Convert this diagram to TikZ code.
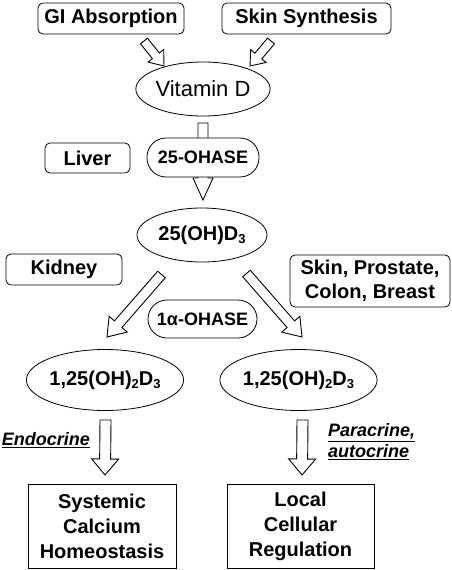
\documentclass[tikz,border=0pt]{standalone}
\usepackage{fontspec}
\setmainfont{Liberation Sans}
\usetikzlibrary{calc,shapes.geometric}
\pgfdeclarelayer{background}
\pgfsetlayers{background,main}
\newcommand{\lowsub}[1]{\raisebox{-0.35ex}{\fontsize{13}{13}\selectfont #1}}
\begin{document}
\begin{tikzpicture}[x=1pt,y=-1pt,
  lbl/.style={font=\bfseries\fontsize{20}{24}\selectfont, align=center, inner sep=0pt},
  rbox/.style={lbl, draw, fill=white, rounded corners=5pt, line width=0.8pt},
  sbox/.style={lbl, draw, fill=white, line width=0.8pt, font=\bfseries\fontsize{20}{25}\selectfont},
  oval/.style={lbl, draw, fill=white, ellipse, line width=0.8pt},
  pill/.style={lbl, draw, fill=white, rounded corners=19pt, line width=0.8pt, font=\bfseries\fontsize{18}{20}\selectfont},
  mode/.style={inner sep=0pt, align=left, font=\bfseries\itshape\fontsize{18}{20}\selectfont},
  blkarrow/.style={draw, fill=white, line width=0.9pt, line join=miter},
  blk/.style n args={3}{to path={
    let \p1=($(\tikztotarget)!#3!(\tikztostart)$) in
    ($(\tikztostart)!#1!90:(\tikztotarget)$) --
    ($(\p1)!#1!90:(\tikztotarget)$) --
    ($(\p1)!#2!90:(\tikztotarget)$) --
    (\tikztotarget) --
    ($(\p1)!#2!-90:(\tikztotarget)$) --
    ($(\p1)!#1!-90:(\tikztotarget)$) --
    ($(\tikztostart)!#1!-90:(\tikztotarget)$) -- cycle
  }}
]
\useasboundingbox (0,0) rectangle (451,570);

% nodes
\node[rbox, minimum width=146pt, minimum height=31pt] (gi) at (111,18.5) {GI Absorption};
\node[rbox, minimum width=169pt, minimum height=31pt] (skin) at (306.5,18.5) {Skin Synthesis};
\node[oval, minimum width=130pt, minimum height=54pt, font=\fontsize{22}{24}\selectfont] (vit) at (203,89) {Vitamin D};
\node[pill, minimum width=112pt, minimum height=39pt] (oh25) at (203,157.5) {25-OHASE};
\node[rbox, minimum width=85pt, minimum height=30pt] (liver) at (87.5,158) {Liver};
\node[oval, minimum width=130pt, minimum height=54pt] (d3) at (202,235) {25(OH)D\lowsub{3}};
\node[rbox, minimum width=116pt, minimum height=31pt] (kidney) at (64,269.5) {Kidney};
\node[rbox, minimum width=160pt, minimum height=52pt] (tissue) at (370,281) {Skin, Prostate,\\Colon, Breast};
\node[pill, minimum width=109pt, minimum height=38pt] (oh1) at (202.5,319) {1α-OHASE};
\node[oval, minimum width=131pt, minimum height=61pt] (d3l) at (105,380) {1,25(OH)\lowsub{2}D\lowsub{3}};
\node[oval, minimum width=131pt, minimum height=61pt] (d3r) at (298.5,380) {1,25(OH)\lowsub{2}D\lowsub{3}};
\node[sbox, minimum width=148pt, minimum height=84pt] (sys) at (102,526) {Systemic\\Calcium\\Homeostasis};
\node[sbox, minimum width=147pt, minimum height=84pt] (loc) at (300.5,526) {Local\\Cellular\\Regulation};
\node[mode, anchor=east] (endo) at (90,440) {\underline{Endocrine}};
\node[mode, anchor=west] (para) at (328,442) {\underline{Paracrine,}\\[1pt]\underline{autocrine}};

% arrow end points
\coordinate (giA) at (144,41);   \coordinate (giB) at (164,66);
\coordinate (skA) at (271,41);   \coordinate (skB) at (250,66);
\coordinate (vA) at (203,123);   \coordinate (vB) at (203,200);
\coordinate (klA) at (161.5,274.5); \coordinate (klB) at (107,337);
\coordinate (krA) at (246.5,273.5); \coordinate (krB) at (302,337);
\coordinate (elA) at (105.5,420); \coordinate (elB) at (105,475);
\coordinate (erA) at (302.5,420); \coordinate (erB) at (302,475);

\begin{pgfonlayer}{background}
\draw[blkarrow] (giA) to[blk={4.5pt}{10pt}{13pt}] (giB);
\draw[blkarrow] (skA) to[blk={4.5pt}{10pt}{13pt}] (skB);
\draw[blkarrow] (vA) to[blk={5pt}{10pt}{22pt}] (vB);
\draw[blkarrow] (klA) to[blk={5pt}{12pt}{17pt}] (klB);
\draw[blkarrow] (krA) to[blk={5pt}{12pt}{17pt}] (krB);
\draw[blkarrow] (elA) to[blk={5.5pt}{13.5pt}{16pt}] (elB);
\draw[blkarrow] (erA) to[blk={5.5pt}{13.5pt}{16pt}] (erB);
\end{pgfonlayer}
\end{tikzpicture}
\end{document}
